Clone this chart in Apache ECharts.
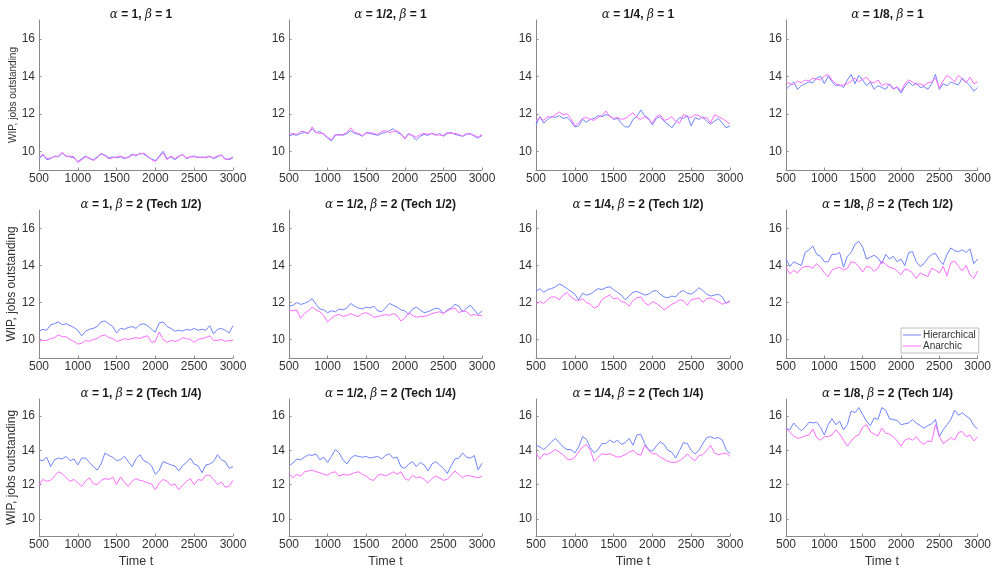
<!DOCTYPE html>
<html>
<head>
<meta charset="utf-8">
<title>WIP panels</title>
<script src="https://cdn.jsdelivr.net/npm/echarts@6/dist/echarts.min.js"></script>
<style>
  html, body { margin: 0; padding: 0; background: #fff; }
  #chart { width: 994px; height: 572px; }
</style>
</head>
<body>
<div id="chart"></div>
<script>
'use strict';

const times = [500, 550, 600, 650, 700, 750, 800, 850, 900, 950,
    1000, 1050, 1100, 1150, 1200, 1250, 1300, 1350, 1400, 1450,
    1500, 1550, 1600, 1650, 1700, 1750, 1800, 1850, 1900, 1950,
    2000, 2050, 2100, 2150, 2200, 2250, 2300, 2350, 2400, 2450,
    2500, 2550, 2600, 2650, 2700, 2750, 2800, 2850, 2900, 2950, 3000];
const xTicks = [500, 1000, 1500, 2000, 2500, 3000];
const yTicks = [10, 12, 14, 16];

const panelTitles = [
    '{g|α} = 1, {g|β} = 1', '{g|α} = 1/2, {g|β} = 1', '{g|α} = 1/4, {g|β} = 1', '{g|α} = 1/8, {g|β} = 1',
    '{g|α} = 1, {g|β} = 2 (Tech 1/2)', '{g|α} = 1/2, {g|β} = 2 (Tech 1/2)', '{g|α} = 1/4, {g|β} = 2 (Tech 1/2)', '{g|α} = 1/8, {g|β} = 2 (Tech 1/2)',
    '{g|α} = 1, {g|β} = 2 (Tech 1/4)', '{g|α} = 1/2, {g|β} = 2 (Tech 1/4)', '{g|α} = 1/4, {g|β} = 2 (Tech 1/4)', '{g|α} = 1/8, {g|β} = 2 (Tech 1/4)',
];

// beta = 1
const hierB1_a1 = [9.6, 9.8, 9.55, 9.6, 9.75, 9.7, 9.9, 9.75, 9.7, 9.65,
    9.45, 9.6, 9.75, 9.6, 9.55, 9.7, 9.85, 9.8, 9.65, 9.7,
    9.65, 9.7, 9.6, 9.7, 9.85, 9.75, 9.9, 9.85, 9.7, 9.6,
    9.5, 9.75, 10.0, 9.6, 9.7, 9.55, 9.7, 9.85, 9.6, 9.7,
    9.75, 9.65, 9.7, 9.65, 9.75, 9.6, 9.7, 9.8, 9.6, 9.55, 9.65];
const anarB1_a1 = [9.65, 9.85, 9.6, 9.65, 9.7, 9.75, 9.95, 9.7, 9.75, 9.7,
    9.4, 9.55, 9.7, 9.65, 9.5, 9.65, 9.9, 9.75, 9.6, 9.65,
    9.7, 9.75, 9.65, 9.65, 9.8, 9.8, 9.85, 9.9, 9.75, 9.55,
    9.45, 9.7, 9.9, 9.55, 9.75, 9.6, 9.75, 9.8, 9.65, 9.7,
    9.7, 9.7, 9.65, 9.7, 9.7, 9.65, 9.75, 9.8, 9.55, 9.6, 9.7];
const hierB1_a2 = [10.8, 10.9, 10.85, 10.95, 11.0, 10.95, 11.2, 11.0, 11.05, 10.9,
    10.7, 10.55, 10.85, 10.9, 10.85, 10.95, 11.1, 10.95, 10.9, 10.8,
    11.0, 10.95, 10.9, 10.85, 10.95, 11.0, 11.1, 11.2, 11.0, 10.9,
    10.7, 10.95, 10.8, 10.6, 10.8, 10.9, 10.85, 10.95, 10.85, 10.95,
    10.8, 10.95, 11.0, 10.9, 10.85, 10.8, 10.9, 10.95, 10.8, 10.7, 10.85];
const anarB1_a2 = [10.9, 10.95, 10.9, 11.05, 11.05, 10.95, 11.3, 11.0, 10.95, 10.95,
    10.75, 10.6, 10.9, 10.85, 10.9, 11.0, 11.25, 11.0, 10.95, 10.85,
    10.95, 11.0, 10.95, 10.9, 11.05, 11.1, 11.0, 11.05, 11.1, 10.95,
    10.65, 10.9, 10.85, 10.75, 10.9, 10.95, 10.9, 10.95, 10.9, 10.85,
    10.85, 11.0, 10.95, 10.95, 10.9, 10.8, 10.95, 10.9, 10.85, 10.75, 10.9];
const hierB1_a4 = [11.4, 11.85, 11.5, 11.7, 11.85, 11.8, 11.9, 11.75, 11.8, 11.6,
    11.3, 11.35, 11.7, 11.55, 11.7, 11.75, 11.9, 11.85, 11.95, 11.9,
    11.7, 11.75, 11.5, 11.3, 11.3, 11.7, 11.85, 12.2, 11.9, 11.75,
    11.4, 11.75, 11.85, 11.6, 11.45, 11.25, 11.55, 11.8, 11.75, 11.9,
    11.35, 11.8, 11.7, 11.85, 11.6, 11.45, 11.6, 11.75, 11.5, 11.25, 11.35];
const anarB1_a4 = [11.6, 11.8, 11.65, 11.85, 11.8, 11.95, 12.1, 11.95, 12.0, 11.75,
    11.35, 11.5, 11.75, 11.8, 11.7, 11.65, 11.8, 11.9, 12.15, 11.85,
    11.75, 11.8, 11.7, 11.75, 11.9, 12.05, 11.8, 11.7, 11.85, 11.7,
    11.5, 11.85, 11.95, 11.65, 11.7, 11.85, 11.6, 11.5, 11.95, 11.85,
    11.8, 11.95, 11.9, 11.75, 11.8, 11.5, 11.95, 11.85, 11.75, 11.6, 11.45];
const hierB1_a8 = [13.3, 13.5, 13.7, 13.3, 13.5, 13.6, 13.7, 13.65, 13.9, 14.0,
    13.6, 14.0, 13.7, 13.5, 13.55, 13.4, 13.8, 14.1, 13.6, 14.05,
    13.8, 13.5, 13.7, 13.3, 13.5, 13.4, 13.3, 13.6, 13.35, 13.4,
    13.1, 13.45, 13.7, 13.5, 13.65, 13.4, 13.45, 13.3, 13.6, 14.1,
    13.3, 13.6, 13.5, 13.7, 13.6, 13.55, 13.9, 13.7, 13.5, 13.2, 13.4];
const anarB1_a8 = [13.7, 13.6, 13.55, 13.75, 13.65, 13.8, 13.75, 13.9, 13.85, 13.8,
    14.0, 14.1, 13.8, 13.6, 13.5, 13.55, 13.6, 13.75, 13.9, 13.7,
    13.85, 13.95, 13.7, 13.65, 13.8, 13.5, 13.6, 13.55, 13.3, 13.45,
    13.2, 13.6, 13.8, 13.7, 13.55, 13.6, 13.5, 13.65, 13.7, 13.9,
    13.4, 13.75, 14.05, 13.9, 13.7, 14.05, 13.85, 13.65, 13.95, 13.6, 13.7];

// beta = 2, Tech 1/2
const hierT2_a1 = [10.45, 10.55, 10.5, 10.8, 10.85, 10.95, 10.8, 10.85, 10.75, 10.65,
    10.5, 10.2, 10.45, 10.55, 10.6, 10.7, 10.95, 11.0, 10.85, 10.7,
    10.35, 10.6, 10.55, 10.65, 10.7, 10.6, 10.8, 10.85, 10.75, 10.55,
    10.4, 10.9, 10.95, 10.7, 10.6, 10.45, 10.5, 10.45, 10.55, 10.5,
    10.6, 10.5, 10.55, 10.5, 10.75, 10.3, 10.55, 10.6, 10.5, 10.35, 10.75];
const anarT2_a1 = [9.9, 9.95, 9.95, 10.05, 10.1, 10.25, 10.15, 10.15, 10.0, 9.9,
    9.75, 9.8, 9.95, 9.9, 10.0, 10.05, 10.2, 10.25, 10.1, 10.05,
    9.9, 9.95, 10.05, 10.0, 10.05, 10.1, 10.05, 10.15, 10.2, 9.85,
    9.9, 10.4, 10.0, 9.85, 9.95, 9.9, 9.95, 10.1, 10.05, 10.0,
    9.85, 10.0, 10.05, 10.1, 10.2, 9.95, 9.95, 10.0, 9.9, 9.95, 9.95];
const hierT2_a2 = [11.8, 11.85, 12.0, 11.9, 11.95, 12.05, 12.2, 11.9, 11.65, 11.6,
    11.45, 11.55, 11.5, 11.65, 11.6, 11.7, 11.95, 11.8, 11.7, 11.65,
    11.75, 11.7, 11.8, 11.55, 11.5, 11.7, 11.95, 11.85, 11.75, 11.6,
    11.55, 11.35, 11.65, 11.75, 11.6, 11.45, 11.5, 11.6, 11.7, 11.65,
    11.4, 11.6, 11.7, 11.9, 11.8, 11.5, 11.7, 11.85, 11.6, 11.35, 11.55];
const anarT2_a2 = [11.6, 11.55, 11.6, 11.15, 11.4, 11.55, 11.75, 11.6, 11.5, 11.3,
    10.95, 11.15, 11.3, 11.35, 11.25, 11.3, 11.4, 11.3, 11.25, 11.4,
    11.45, 11.35, 11.2, 11.25, 11.3, 11.35, 11.3, 11.4, 11.3, 11.0,
    11.15, 11.45, 11.3, 11.2, 11.25, 11.25, 11.3, 11.4, 11.45, 11.5,
    11.4, 11.55, 11.65, 11.7, 11.45, 11.55, 11.5, 11.3, 11.35, 11.3, 11.3];
const hierT2_a4 = [12.6, 12.75, 12.55, 12.7, 12.75, 12.85, 13.0, 12.9, 12.75, 12.6,
    12.45, 12.15, 12.5, 12.4, 12.45, 12.6, 12.75, 12.7, 12.8, 12.85,
    12.7, 12.55, 12.4, 12.15, 12.35, 12.55, 12.6, 12.5, 12.4, 12.45,
    12.6, 12.65, 12.45, 12.3, 12.25, 12.35, 12.3, 12.55, 12.65, 12.5,
    12.45, 12.6, 12.8, 12.65, 12.45, 12.35, 12.4, 12.45, 12.3, 11.95, 12.1];
const anarT2_a4 = [11.9, 12.05, 11.95, 12.15, 12.3, 12.3, 12.15, 12.4, 12.55, 12.3,
    12.15, 12.1, 12.2, 12.0, 11.9, 11.7, 11.8, 12.15, 12.3, 12.4,
    12.2, 12.25, 12.05, 12.0, 11.8, 12.1, 12.25, 12.3, 12.0, 11.85,
    12.05, 11.95, 11.8, 11.6, 11.75, 11.9, 12.0, 12.15, 12.1, 11.85,
    12.15, 12.2, 12.25, 12.0, 12.2, 12.25, 12.15, 12.05, 11.9, 12.0, 12.05];
const hierT2_a8 = [14.35, 13.95, 14.2, 14.1, 14.0, 14.7, 14.85, 15.05, 14.6, 14.5,
    14.2, 14.2, 14.6, 14.6, 14.7, 13.9, 14.5, 14.7, 15.15, 15.3,
    15.0, 14.35, 14.45, 14.55, 14.4, 14.1, 14.6, 14.35, 14.5, 14.2,
    14.35, 14.0, 14.7, 14.75, 14.2, 13.95, 14.1, 14.4, 14.6, 14.65,
    14.3, 14.05, 14.6, 14.95, 14.8, 14.75, 14.85, 14.7, 14.9, 14.1, 14.35];
const anarT2_a8 = [13.9, 13.55, 13.75, 13.6, 13.85, 13.95, 13.95, 13.85, 14.1, 13.9,
    13.6, 13.4, 13.75, 13.85, 13.9, 13.75, 13.85, 14.2, 14.15, 13.95,
    13.65, 13.95, 13.9, 13.7, 13.85, 14.25, 14.05, 13.9, 13.85, 13.7,
    13.5, 13.8, 13.75, 13.6, 13.3, 13.6, 13.5, 13.4, 13.85, 13.75,
    13.6, 13.95, 13.45, 14.15, 14.25, 13.95, 13.7, 14.0, 13.5, 13.3, 13.7];

// beta = 2, Tech 1/4
const hierT4_a1 = [13.45, 13.4, 13.6, 13.05, 13.45, 13.55, 13.5, 13.65, 13.4, 13.5,
    13.15, 13.55, 13.55, 13.3, 13.05, 12.85, 13.2, 13.85, 13.7, 13.6,
    13.4, 13.45, 13.65, 13.35, 13.05, 13.5, 13.75, 13.4, 13.3, 13.1,
    12.6, 12.85, 13.35, 13.25, 13.15, 13.1, 12.8, 13.1, 13.3, 13.55,
    13.2, 13.1, 12.7, 13.15, 13.2, 13.35, 13.75, 13.45, 13.35, 12.95, 13.05];
const anarT4_a1 = [11.95, 12.3, 12.2, 12.25, 12.5, 12.75, 12.65, 12.4, 12.2, 12.3,
    12.1, 11.9, 12.2, 12.4, 12.05, 12.0, 12.25, 12.35, 12.3, 12.45,
    12.0, 12.45, 12.15, 11.9, 12.2, 12.35, 12.25, 12.2, 12.1, 12.05,
    11.7, 12.1, 12.3, 12.2, 11.95, 12.05, 11.7, 11.95, 12.2, 12.35,
    12.0, 12.3, 12.25, 12.55, 12.55, 12.3, 12.0, 12.15, 11.85, 11.9, 12.25];
const hierT4_a2 = [13.1, 13.25, 13.5, 13.45, 13.6, 13.75, 13.7, 13.8, 13.45, 13.6,
    13.3, 13.65, 14.05, 13.85, 13.45, 13.2, 13.55, 13.7, 13.65, 13.6,
    13.65, 13.55, 13.6, 13.65, 13.5, 13.7, 13.8, 13.55, 13.6, 13.05,
    12.95, 13.2, 13.35, 13.05, 13.3, 13.15, 12.8, 13.2, 13.35, 13.15,
    12.95, 12.65, 13.1, 13.5, 13.55, 13.85, 13.6, 13.55, 13.7, 12.85, 13.25];
const anarT4_a2 = [12.65, 12.4, 12.6, 12.5, 12.75, 12.8, 12.85, 12.75, 12.7, 12.6,
    12.55, 12.7, 12.75, 12.5, 12.6, 12.55, 12.6, 12.7, 12.75, 12.6,
    12.5, 12.3, 12.25, 12.55, 12.6, 12.5, 12.6, 12.75, 12.6, 12.75,
    12.35, 12.25, 12.55, 12.4, 12.45, 12.3, 12.1, 12.35, 12.5, 12.4,
    12.25, 12.3, 12.55, 12.8, 12.6, 12.4, 12.55, 12.5, 12.45, 12.4, 12.5];
const hierT4_a4 = [14.3, 14.2, 14.05, 14.25, 14.5, 14.7, 14.45, 14.2, 14.05, 14.05,
    13.85, 14.2, 14.8, 14.65, 14.15, 13.85, 14.05, 14.4, 14.4, 14.6,
    14.45, 14.6, 14.35, 14.45, 14.7, 14.3, 14.9, 14.95, 14.4, 14.05,
    13.95, 14.25, 14.5, 14.35, 14.0, 13.9, 13.55, 14.0, 14.45, 14.4,
    14.0, 13.8, 14.0, 14.4, 14.75, 14.8, 14.7, 14.75, 14.6, 14.05, 13.8];
const anarT4_a4 = [13.85, 13.5, 13.8, 13.75, 13.9, 14.05, 13.9, 13.75, 13.5, 13.45,
    13.6, 13.9, 14.2, 14.35, 14.0, 13.35, 13.6, 13.8, 13.75, 13.8,
    13.7, 13.6, 13.65, 13.75, 13.9, 14.0, 13.8, 13.7, 14.3, 14.0,
    13.8, 13.8, 13.6, 13.5, 13.35, 13.3, 13.3, 13.4, 13.55, 13.8,
    13.55, 13.4, 13.7, 13.75, 14.0, 14.3, 13.85, 13.75, 13.8, 13.85, 13.65];
const hierT4_a8 = [15.3, 15.2, 15.6, 15.35, 15.15, 15.35, 15.65, 15.6, 15.65, 15.35,
    14.9, 15.5, 15.85, 15.5, 15.7, 15.2, 15.5, 16.3, 16.2, 16.5,
    16.1, 15.7, 15.45, 15.9, 15.8, 16.5, 16.35, 15.85, 15.8, 15.75,
    15.5, 15.55, 15.6, 15.8, 15.6, 15.45, 15.3, 15.45, 15.55, 15.8,
    14.8, 15.2, 15.5, 15.8, 16.35, 16.05, 16.2, 16.0, 15.85, 15.45, 15.25];
const anarT4_a8 = [15.3, 15.05, 14.85, 14.7, 14.75, 14.85, 14.9, 15.25, 14.75, 14.6,
    14.8, 14.8, 14.9, 15.2, 14.95, 14.6, 14.25, 14.55, 14.8, 14.9,
    15.35, 15.5, 15.1, 14.95, 14.85, 15.3, 15.0, 14.95, 14.8, 14.55,
    14.25, 14.6, 14.7, 14.6, 14.8, 14.5, 14.35, 14.55, 14.5, 15.5,
    14.85, 14.4, 14.55, 14.75, 14.6, 15.05, 15.1, 14.8, 14.9, 14.55, 14.8];

const hierSeries = [hierB1_a1, hierB1_a2, hierB1_a4, hierB1_a8,
    hierT2_a1, hierT2_a2, hierT2_a4, hierT2_a8,
    hierT4_a1, hierT4_a2, hierT4_a4, hierT4_a8];
const anarSeries = [anarB1_a1, anarB1_a2, anarB1_a4, anarB1_a8,
    anarT2_a1, anarT2_a2, anarT2_a4, anarT2_a8,
    anarT4_a1, anarT4_a2, anarT4_a4, anarT4_a8];

const colBoxes = [[39, 194], [289, 193], [536, 194], [786, 193]];
const rowBoxes = [[20, 150], [210, 148], [399, 137]];

const AXIS_COLOR = '#8a8a8a';
const TEXT_COLOR = '#333333';
const BLUE = '#6f84ff';
const MAGENTA = '#ff6cff';

function pairs(ys) {
    return ys.map((v, i) => [times[i], v]);
}

function init() {
    const chart = echarts.init(document.getElementById('chart'), null, { renderer: 'canvas' });
    const grid = [], xAxis = [], yAxis = [], title = [], series = [];

    for (let r = 0; r < 3; r++) {
        for (let c = 0; c < 4; c++) {
            const i = r * 4 + c;
            const [left, width] = colBoxes[c];
            const [top, height] = rowBoxes[r];
            grid.push({ left: left, top: top, width: width, height: height });
            title.push({
                text: panelTitles[i],
                left: left + width / 2,
                top: top - 16,
                textAlign: 'center',
                textStyle: {
                    fontFamily: 'Liberation Sans',
                    fontWeight: 'bold',
                    fontSize: 12,
                    color: '#1a1a1a',
                    rich: {
                        g: {
                            fontFamily: 'DejaVu Serif',
                            fontStyle: 'italic',
                            fontWeight: 'normal',
                            fontSize: 12,
                            color: '#1a1a1a',
                        },
                    },
                },
            });
            xAxis.push({
                type: 'value',
                gridIndex: i,
                min: 500,
                max: 3000,
                interval: 500,
                name: r === 2 ? 'Time t' : '',
                nameLocation: 'middle',
                nameGap: 19,
                nameTextStyle: { fontFamily: 'Liberation Sans', fontSize: 12.5, color: TEXT_COLOR },
                axisLine: { show: true, lineStyle: { color: AXIS_COLOR, width: 1 } },
                axisTick: { show: true, inside: true, length: 2.5, lineStyle: { color: AXIS_COLOR } },
                axisLabel: {
                    margin: 3,
                    fontFamily: 'Liberation Sans',
                    fontSize: 12,
                    color: TEXT_COLOR,
                    customValues: xTicks,
                    formatter: (v) => String(v),
                },
                splitLine: { show: false },
            });
            yAxis.push({
                type: 'value',
                gridIndex: i,
                min: 9,
                max: 17,
                name: c === 0 ? 'WIP, jobs outstanding' : '',
                nameLocation: 'middle',
                nameGap: 19,
                nameTextStyle: {
                    fontFamily: 'Liberation Sans',
                    fontSize: r === 0 ? 10 : 12,
                    color: TEXT_COLOR,
                },
                axisLine: { show: true, lineStyle: { color: AXIS_COLOR, width: 1 } },
                axisTick: { show: true, inside: true, length: 2.5, lineStyle: { color: AXIS_COLOR }, customValues: yTicks },
                axisLabel: {
                    margin: 4,
                    fontFamily: 'Liberation Sans',
                    fontSize: 12,
                    color: TEXT_COLOR,
                    customValues: yTicks,
                    formatter: (v) => String(v),
                },
                splitLine: { show: false },
            });
            series.push({
                name: 'Hierarchical',
                type: 'line',
                xAxisIndex: i,
                yAxisIndex: i,
                data: pairs(hierSeries[i]),
                showSymbol: false,
                symbol: 'none',
                lineStyle: { width: 1, color: BLUE },
                itemStyle: { color: BLUE },
            });
            series.push({
                name: 'Anarchic',
                type: 'line',
                xAxisIndex: i,
                yAxisIndex: i,
                data: pairs(anarSeries[i]),
                showSymbol: false,
                symbol: 'none',
                lineStyle: { width: 1, color: MAGENTA },
                itemStyle: { color: MAGENTA },
            });
        }
    }

    const option = {
        animation: false,
        backgroundColor: '#ffffff',
        title: title,
        grid: grid,
        xAxis: xAxis,
        yAxis: yAxis,
        legend: {
            data: ['Hierarchical', 'Anarchic'],
            orient: 'vertical',
            left: 901,
            top: 328,
            padding: [2, 3, 2, 2],
            itemGap: 1,
            itemWidth: 18,
            itemHeight: 10,
            icon: 'path://M0,4.5 L18,4.5 L18,5.5 L0,5.5 Z',
            backgroundColor: '#ffffff',
            borderColor: '#bdbdbd',
            borderWidth: 1,
            borderRadius: 0,
            textStyle: { fontFamily: 'Liberation Sans', fontSize: 10, color: TEXT_COLOR, padding: [0, 0, 0, -3] },
        },
        series: series,
    };
    chart.setOption(option);

    window.addEventListener('resize', () => {
        chart.resize();
    });
}

(function () {
    init();
})();
</script>
</body>
</html>
